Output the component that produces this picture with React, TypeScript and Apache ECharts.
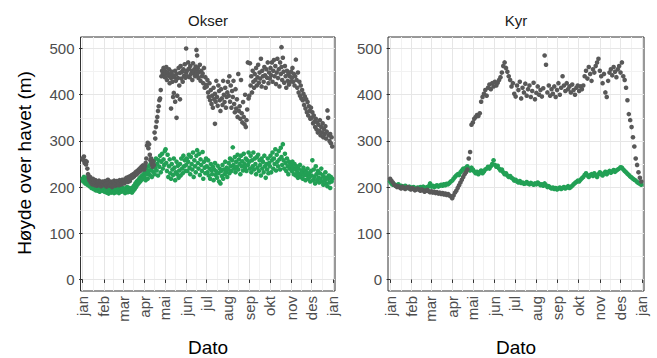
import React, { useEffect, useRef } from "react";
import * as echarts from "echarts";

// Month ticks on a day-of-year scale (day 0 = 1 January)
const monthNames = ["jan", "feb", "mar", "apr", "mai", "jun", "jul", "aug", "sep", "okt", "nov", "des", "jan"];
const monthStartDays = [0, 31, 59, 90, 120, 151, 181, 212, 243, 273, 304, 334, 365];
const yTicks = [0, 100, 200, 300, 400, 500];
const yMinorTicks = [50, 150, 250, 350, 450];

const panelTitles = ["Okser", "Kyr"];

// Okser: [day of year, height above sea level (m)]
const okserGray: [number, number][] = [
  [0, 262], [1, 258], [2, 266], [3, 252], [4, 257], [5, 249], [6, 255], [7, 240], [8, 228], [9, 220], [10, 215], [11, 222], [12, 210], [13, 213], [14, 206], [15, 218], [16, 208], [17, 212], [18, 204], [19, 215], [20, 209], [21, 203], [22, 211], [23, 207], [24, 214], [25, 205], [26, 210], [27, 202], [28, 208], [29, 212], [30, 206],
  [31, 210], [32, 204], [33, 213], [34, 207], [35, 201], [36, 210], [37, 216], [38, 205], [39, 209], [40, 203], [41, 212], [42, 207], [43, 200], [44, 211], [45, 206], [46, 214], [47, 209], [48, 203], [49, 208], [50, 213], [51, 206], [52, 211], [53, 204], [54, 215], [55, 209], [56, 212], [57, 206], [58, 216],
  [59, 210], [60, 214], [61, 208], [62, 217], [63, 212], [64, 220], [65, 215], [66, 211], [67, 222], [68, 218], [69, 213], [70, 224], [71, 219], [72, 226], [73, 221], [74, 228], [75, 223], [76, 230], [77, 226], [78, 233], [79, 228], [80, 235], [81, 231], [82, 238], [83, 234], [84, 241], [85, 236], [86, 244], [87, 240], [88, 247], [89, 243],
  [90, 238], [91, 245], [92, 252], [93, 262], [94, 290], [95, 296], [96, 284], [97, 293], [98, 270], [99, 258], [100, 262], [101, 250], [102, 244], [103, 256], [104, 248], [105, 318], [106, 305], [107, 330], [108, 342], [109, 352], [110, 365], [111, 375], [112, 388], [113, 392], [114, 410], [115, 440], [116, 452], [117, 447], [118, 458], [119, 443],
  [120, 452], [120, 438], [121, 446], [122, 460], [123, 432], [124, 448], [125, 441], [126, 455], [127, 425], [128, 444], [129, 370], [129, 436], [130, 450], [131, 428], [132, 395], [132, 442], [133, 404], [134, 438], [135, 385], [135, 452], [136, 430], [137, 350], [137, 445], [138, 398], [139, 436], [140, 458], [141, 420], [142, 390], [142, 447], [143, 462], [144, 435], [145, 450], [146, 428], [147, 455], [148, 441], [149, 466], [150, 437],
  [151, 500], [151, 448], [152, 452], [153, 440], [154, 470], [155, 456], [156, 438], [157, 462], [158, 445], [159, 452], [160, 432], [161, 468], [162, 447], [163, 455], [164, 440], [165, 461], [166, 497], [166, 450], [167, 485], [167, 442], [168, 458], [169, 436], [170, 449], [171, 465], [172, 430], [173, 452], [174, 440], [175, 446], [176, 425], [177, 458], [178, 415], [179, 438], [180, 421],
  [181, 418], [182, 432], [183, 405], [184, 395], [185, 425], [186, 388], [187, 410], [188, 380], [189, 398], [190, 372], [191, 415], [192, 390], [193, 337], [193, 402], [194, 385], [195, 430], [196, 395], [197, 376], [198, 420], [199, 408], [200, 388], [201, 365], [202, 412], [203, 392], [204, 378], [205, 430], [206, 400], [207, 384], [208, 415], [209, 372], [210, 395], [211, 405],
  [212, 428], [213, 398], [214, 440], [215, 385], [216, 420], [217, 372], [218, 408], [219, 395], [220, 430], [221, 380], [222, 362], [223, 412], [224, 370], [225, 390], [226, 352], [227, 445], [228, 365], [229, 375], [230, 348], [231, 432], [232, 360], [233, 340], [234, 384], [235, 352], [236, 336], [237, 400], [238, 330], [239, 345], [240, 368], [241, 470], [242, 392],
  [243, 398], [244, 468], [245, 420], [246, 440], [247, 405], [248, 452], [249, 428], [250, 415], [251, 445], [252, 432], [253, 458], [254, 420], [255, 438], [256, 465], [257, 426], [258, 448], [259, 435], [260, 478], [261, 418], [262, 452], [263, 440], [264, 428], [265, 460], [266, 442], [267, 415], [268, 455], [269, 437], [270, 470], [271, 425], [272, 448],
  [273, 435], [274, 458], [275, 442], [276, 470], [277, 428], [278, 452], [279, 475], [280, 440], [281, 462], [282, 423], [283, 448], [284, 478], [285, 436], [286, 455], [287, 418], [288, 470], [289, 445], [290, 503], [290, 460], [291, 432], [292, 480], [293, 450], [294, 426], [295, 462], [296, 440], [297, 415], [298, 452], [299, 430], [300, 445], [301, 422], [302, 440], [303, 428],
  [304, 450], [305, 436], [306, 458], [307, 428], [308, 445], [309, 420], [310, 440], [311, 476], [312, 432], [313, 415], [314, 448], [315, 405], [316, 428], [317, 398], [318, 420], [319, 392], [320, 410], [321, 388], [322, 402], [323, 378], [324, 396], [325, 370], [326, 390], [327, 362], [328, 384], [329, 355], [330, 375], [331, 365], [332, 348], [333, 372],
  [334, 350], [335, 362], [336, 338], [337, 355], [338, 342], [339, 330], [340, 348], [341, 325], [342, 340], [343, 318], [344, 335], [345, 322], [346, 345], [347, 312], [348, 330], [349, 318], [350, 338], [351, 308], [352, 325], [353, 315], [354, 332], [355, 305], [356, 320], [357, 366], [358, 350], [359, 312], [360, 300], [361, 315], [362, 295], [363, 308], [364, 288],
];

const okserGreen: [number, number][] = [
  [0, 218], [1, 212], [2, 222], [3, 215], [4, 208], [5, 220], [6, 213], [7, 205], [8, 217], [9, 210], [10, 202], [11, 214], [12, 207], [13, 198], [14, 211], [15, 204], [16, 196], [17, 209], [18, 201], [19, 193], [20, 206], [21, 199], [22, 192], [23, 204], [24, 197], [25, 190], [26, 202], [27, 195], [28, 199], [29, 192], [30, 205],
  [31, 198], [32, 190], [33, 203], [34, 194], [35, 188], [36, 199], [37, 192], [38, 186], [39, 197], [40, 191], [41, 200], [42, 188], [43, 195], [44, 190], [45, 199], [46, 187], [47, 194], [48, 201], [49, 189], [50, 196], [51, 191], [52, 198], [53, 187], [54, 193], [55, 200], [56, 190], [57, 196], [58, 192],
  [59, 198], [60, 190], [61, 195], [62, 187], [63, 197], [64, 192], [65, 200], [66, 189], [67, 194], [68, 198], [69, 190], [70, 196], [71, 193], [72, 188], [73, 199], [74, 192], [75, 203], [76, 196], [77, 208], [78, 200], [79, 212], [80, 205], [81, 215], [82, 209], [83, 219], [84, 212], [85, 222], [86, 216], [87, 225], [88, 218], [89, 228],
  [90, 222], [91, 232], [92, 215], [93, 240], [94, 228], [95, 218], [96, 245], [97, 235], [98, 226], [99, 250], [100, 238], [101, 222], [102, 247], [103, 233], [104, 256], [105, 228], [106, 242], [107, 262], [108, 236], [109, 250], [110, 225], [111, 258], [112, 244], [113, 268], [114, 232], [115, 255], [116, 272], [117, 240], [118, 260], [119, 248],
  [120, 278], [121, 282], [122, 252], [123, 235], [124, 270], [125, 222], [126, 245], [127, 260], [128, 230], [129, 218], [130, 250], [131, 238], [132, 226], [133, 262], [134, 242], [135, 215], [136, 232], [137, 255], [138, 228], [139, 246], [140, 220], [141, 236], [142, 250], [143, 225], [144, 262], [145, 240], [146, 230], [147, 268], [148, 245], [149, 258], [150, 235],
  [151, 248], [152, 262], [153, 235], [154, 255], [155, 270], [156, 242], [157, 228], [158, 265], [159, 250], [160, 238], [161, 275], [162, 222], [163, 258], [164, 245], [165, 232], [166, 268], [167, 280], [168, 252], [169, 240], [170, 272], [171, 226], [172, 260], [173, 248], [174, 235], [175, 276], [176, 218], [177, 255], [178, 242], [179, 230], [180, 262],
  [181, 245], [182, 232], [183, 258], [184, 225], [185, 240], [186, 218], [187, 250], [188, 236], [189, 228], [190, 244], [191, 215], [192, 238], [193, 252], [194, 226], [195, 234], [196, 220], [197, 246], [198, 230], [199, 212], [200, 240], [201, 208], [202, 235], [203, 224], [204, 248], [205, 218], [206, 238], [207, 228], [208, 255], [209, 232], [210, 242], [211, 222],
  [212, 238], [213, 252], [214, 230], [215, 262], [216, 245], [217, 235], [218, 258], [219, 286], [220, 248], [221, 240], [222, 265], [223, 232], [224, 255], [225, 244], [226, 270], [227, 238], [228, 260], [229, 250], [230, 228], [231, 268], [232, 245], [233, 256], [234, 236], [235, 272], [236, 250], [237, 242], [238, 262], [239, 235], [240, 258], [241, 248], [242, 275],
  [243, 255], [244, 240], [245, 268], [246, 232], [247, 258], [248, 245], [249, 275], [250, 238], [251, 262], [252, 250], [253, 228], [254, 265], [255, 242], [256, 270], [257, 235], [258, 258], [259, 248], [260, 225], [261, 262], [262, 240], [263, 255], [264, 232], [265, 268], [266, 245], [267, 220], [268, 250], [269, 238], [270, 262], [271, 230], [272, 252],
  [273, 245], [274, 268], [275, 232], [276, 258], [277, 275], [278, 240], [279, 262], [280, 250], [281, 282], [282, 236], [283, 270], [284, 255], [285, 245], [286, 278], [287, 260], [288, 238], [289, 285], [290, 265], [291, 248], [292, 293], [293, 258], [294, 240], [295, 272], [296, 252], [297, 235], [298, 262], [299, 245], [300, 228], [301, 255], [302, 240], [303, 250],
  [304, 248], [305, 235], [306, 255], [307, 242], [308, 228], [309, 250], [310, 238], [311, 225], [312, 245], [313, 232], [314, 220], [315, 240], [316, 228], [317, 248], [318, 222], [319, 236], [320, 230], [321, 218], [322, 242], [323, 226], [324, 235], [325, 215], [326, 232], [327, 225], [328, 240], [329, 218], [330, 230], [331, 222], [332, 212], [333, 235],
  [334, 225], [335, 258], [336, 215], [337, 238], [338, 222], [339, 208], [340, 245], [341, 228], [342, 215], [343, 235], [344, 220], [345, 210], [346, 230], [347, 218], [348, 240], [349, 212], [350, 226], [351, 205], [352, 222], [353, 215], [354, 232], [355, 208], [356, 220], [357, 202], [358, 218], [359, 225], [360, 210], [361, 198], [362, 222], [363, 212], [364, 218],
];

// Kyr: one reading every second day from 1 January
const kyrStepDays = 2;
const kyrGray: number[] = [
  218, 214, 210, 205, 203, 200, 202, 199, 197, 201, 198, 196, 199, 200, 197, 195,
  198, 196, 193, 195, 197, 194, 192, 195, 193, 190, 192, 194, 191, 189,
  191, 188, 190, 187, 189, 186, 188, 185, 187, 184, 186, 183, 185, 182, 180,
  176, 182, 188, 192, 198, 204, 210, 216, 222, 228, 232, 238, 262, 276, 335, 340, 348, 352, 356, 354, 360, 385, 395, 402, 410, 398, 415, 422, 412, 425, 418, 428, 420, 426, 432, 438, 448, 462, 470, 458, 450, 440, 432,
  418, 425, 402, 396, 420, 410, 428, 392, 415, 405, 424, 398, 412, 420, 395, 408, 426, 390, 404, 418, 400, 410, 396, 414, 485, 465, 405, 420, 398, 412, 402, 418, 395, 410, 425, 400, 415, 440, 420, 408, 425, 412, 418, 405, 422, 410, 400, 415, 420, 408, 418, 412,
  420, 440, 452, 435, 460, 445, 430, 455, 448, 462, 470, 478, 452, 440, 425, 445, 405, 395, 430, 448, 455, 442, 460, 450, 438, 455, 462, 448, 470, 440, 432, 415, 388, 358, 345, 330, 308, 288, 262, 248, 232, 220, 212,
];
const kyrGreen: number[] = [
  212, 208, 205, 206, 203, 204, 206, 202, 203, 200, 201, 203, 200, 198, 201, 199,
  197, 200, 198, 196, 199, 197, 200, 198, 201, 199, 197, 200, 202, 208,
  201, 203, 200, 202, 204, 201, 203, 205, 203, 206, 204, 207, 206, 209, 212,
  214, 218, 222, 225, 228, 226, 232, 236, 240, 238, 242, 245, 240, 236, 242, 238, 234, 230, 233, 228, 232, 236, 230, 234, 238, 240, 244, 240, 245, 250, 258, 248, 244, 246, 240, 236, 238, 232, 228, 230, 225, 222, 224,
  220, 218, 214, 216, 212, 210, 213, 209, 210, 207, 208, 211, 208, 206, 209, 207, 205, 208, 206, 210, 207, 204, 206, 203, 208, 204, 200, 202, 199, 197, 199, 196, 198, 195, 197, 199, 196, 198, 200, 197, 199, 202,
  198, 200, 203, 206, 209, 211, 214, 212, 216, 219, 222, 226, 230, 225, 222, 226, 228, 224, 230, 226, 222, 228, 232, 228, 225, 230, 233, 228, 232, 235, 231, 234, 237, 233, 236, 238, 240, 243, 242, 238, 235, 232, 229, 226, 223, 221, 218, 216, 214, 211, 209, 207, 205,
];

const GRAY = "#595959";
const GREEN = "#22a055";
const FONT = "'Liberation Sans', Arial, Helvetica, sans-serif";

const kyrPoints = (vals: number[]) => vals.map((v, i) => [i * kyrStepDays, v]);

const minorMonthLines = monthStartDays.slice(0, -1).map((d, i) => (d + monthStartDays[i + 1]) / 2);

function buildOption() {
  const grids = [
    { left: 80.5, top: 37, width: 254.5, height: 254 },
    { left: 388, top: 37, width: 256, height: 254 },
  ].map((g) => ({ ...g, show: true, borderColor: "#333333", borderWidth: 1, backgroundColor: "#ffffff" }));

  const xAxes: any[] = [];
  const yAxes: any[] = [];
  grids.forEach((_, gi) => {
    xAxes.push({
      type: "value",
      gridIndex: gi,
      position: "bottom",
      min: -3,
      max: 368,
      axisLine: { show: false },
      axisTick: { show: true, customValues: monthStartDays, length: 3.5, lineStyle: { color: "#333333", width: 1 } },
      axisLabel: {
        customValues: monthStartDays,
        rotate: 90,
        margin: 5,
        fontSize: 15,
        fontFamily: FONT,
        color: "#4d4d4d",
        formatter: (v: number) => {
          const i = monthStartDays.indexOf(v);
          return i >= 0 ? monthNames[i] : "";
        },
      },
      splitLine: { show: true, lineStyle: { color: "#e6e6e6", width: 1 } },
      z: 1,
    });
    xAxes.push({
      type: "value",
      gridIndex: gi,
      position: "top",
      min: -3,
      max: 368,
      axisLine: { show: false },
      axisTick: { show: false, customValues: minorMonthLines },
      axisLabel: { show: false },
      splitLine: { show: true, lineStyle: { color: "#f2f2f2", width: 1 } },
      z: 0,
    });
    yAxes.push({
      type: "value",
      gridIndex: gi,
      position: "left",
      min: -25,
      max: 525,
      axisLine: { show: false },
      axisTick: { show: true, customValues: yTicks, length: 3.5, lineStyle: { color: "#333333", width: 1 } },
      axisLabel: { customValues: yTicks, margin: 6, fontSize: 15, fontFamily: FONT, color: "#4d4d4d" },
      splitLine: { show: true, lineStyle: { color: "#e6e6e6", width: 1 } },
      z: 1,
    });
    yAxes.push({
      type: "value",
      gridIndex: gi,
      position: "right",
      min: -25,
      max: 525,
      axisLine: { show: false },
      axisTick: { show: false, customValues: yMinorTicks },
      axisLabel: { show: false },
      splitLine: { show: true, lineStyle: { color: "#f2f2f2", width: 1 } },
      z: 0,
    });
  });

  const scatter = (data: number[][], color: string, gi: number) => ({
    type: "scatter",
    xAxisIndex: gi * 2,
    yAxisIndex: gi * 2,
    data,
    symbol: "circle",
    symbolSize: 4.6,
    silent: true,
    itemStyle: { color, opacity: 1 },
    z: 3,
  });

  const series = [
    scatter(okserGreen, GREEN, 0),
    scatter(okserGray, GRAY, 0),
    scatter(kyrPoints(kyrGreen), GREEN, 1),
    scatter(kyrPoints(kyrGray), GRAY, 1),
  ];

  const text = (t: string, x: number, y: number, size: number, color: string, rotation = 0) => ({
    type: "text",
    x,
    y,
    rotation,
    silent: true,
    style: { text: t, fill: color, fontSize: size, fontFamily: FONT, align: "center", verticalAlign: "middle" },
  });

  return {
    animation: false,
    backgroundColor: "#ffffff",
    grid: grids,
    xAxis: xAxes,
    yAxis: yAxes,
    series,
    graphic: [
      text(panelTitles[0], 208, 20, 15, "#1a1a1a"),
      text(panelTitles[1], 516, 20, 15, "#1a1a1a"),
      text("Høyde over havet (m)", 24, 163, 19, "#000000", Math.PI / 2),
      text("Dato", 208, 347, 19, "#000000"),
      text("Dato", 516, 347, 19, "#000000"),
    ],
  };
}

export default function App() {
  const ref = useRef<HTMLDivElement>(null);
  useEffect(() => {
    if (!ref.current) return;
    const chart = echarts.init(ref.current, undefined, { renderer: "svg" });
    chart.setOption(buildOption() as any);
    return () => chart.dispose();
  }, []);
  return (
    <div
      ref={ref}
      style={{ position: "absolute", left: 0, top: 0, width: 657, height: 358, background: "#ffffff" }}
    />
  );
}
